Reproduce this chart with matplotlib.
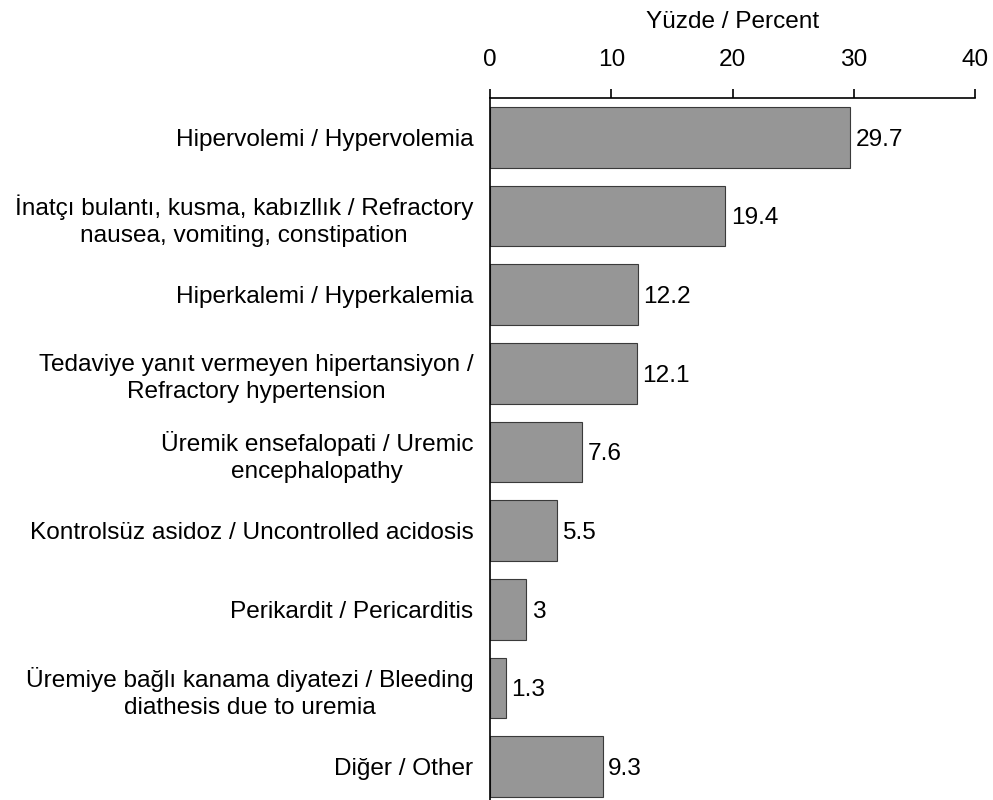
import matplotlib.pyplot as plt

labels = [
    "Hipervolemi / Hypervolemia",
    "İnatçı bulantı, kusma, kabızllık / Refractory\nnausea, vomiting, constipation",
    "Hiperkalemi / Hyperkalemia",
    "Tedaviye yanıt vermeyen hipertansiyon /\nRefractory hypertension",
    "Üremik ensefalopati / Uremic\nencephalopathy",
    "Kontrolsüz asidoz / Uncontrolled acidosis",
    "Perikardit / Pericarditis",
    "Üremiye bağlı kanama diyatezi / Bleeding\ndiathesis due to uremia",
    "Diğer / Other",
]
values = [29.7, 19.4, 12.2, 12.1, 7.6, 5.5, 3, 1.3, 9.3]
value_text = ["29.7", "19.4", "12.2", "12.1", "7.6", "5.5", "3", "1.3", "9.3"]

plt.rcParams['font.family'] = ['Liberation Sans', 'DejaVu Sans']
fs = 17.6

fig = plt.figure(figsize=(9.93, 8.0), dpi=100)
ax = fig.add_axes([490 / 993, -0.0075, 485 / 993, 0.885])

pos = list(range(len(values)))
ax.barh(pos, values, height=0.775, color='#969696', edgecolor='#3a3a3a', linewidth=0.8)
for p, v, t in zip(pos, values, value_text):
    ax.annotate(t, (v, p), xytext=(4, 0), textcoords='offset points',
                ha='left', va='center_baseline', fontsize=fs)

ax.set_ylim(8.5, -0.5)
ax.set_xlim(0, 40)
ax.set_yticks(pos)
ax.set_yticklabels(labels, fontsize=fs, multialignment='center', linespacing=1.3)
ax.tick_params(axis='y', length=0, pad=12)
ax.xaxis.tick_top()
ax.xaxis.set_label_position('top')
ax.set_xticks([0, 10, 20, 30, 40])
ax.tick_params(axis='x', direction='out', length=6.5, width=1.2, labelsize=fs, pad=13)
ax.set_xlabel("Yüzde / Percent", fontsize=fs, labelpad=15)

for s in ['right', 'bottom']:
    ax.spines[s].set_visible(False)
ax.spines['top'].set_linewidth(1.2)
ax.spines['left'].set_linewidth(1.2)

fig.savefig('out.png', dpi=100)
